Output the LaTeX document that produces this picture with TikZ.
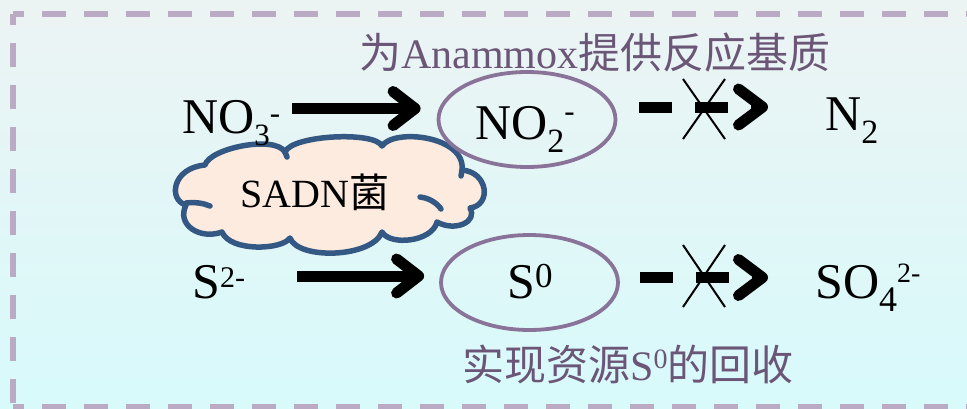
\documentclass[tikz,border=0pt]{standalone}
\usepackage{fontspec}
\setmainfont{Liberation Serif}
\newfontfamily\cjk{Noto Sans CJK SC}
\usetikzlibrary{arrows.meta,shapes.geometric,calc}
\definecolor{bgtop}{RGB}{236,243,243}
\definecolor{bgbot}{RGB}{216,250,251}
\definecolor{framec}{RGB}{186,170,196}
\definecolor{ellc}{RGB}{138,115,152}
\definecolor{notec}{RGB}{107,86,120}
\definecolor{cloudline}{RGB}{52,88,132}
\definecolor{cloudfill}{RGB}{252,235,222}
\newcommand\chsh[3]{\raisebox{#2}{\fontsize{#1}{#1}\selectfont #3}}
\tikzset{
  frameline/.style={draw=framec, line width=5.5pt, dash pattern=on 24pt off 18pt},
  chem/.style={inner sep=0pt, anchor=base west, font=\fontsize{50}{50}\selectfont},
  note/.style={inner sep=0pt, anchor=base, text=notec, font=\fontsize{42}{42}\selectfont},
  oval/.style={ellipse, draw=ellc, line width=3.8pt, minimum width=177pt, minimum height=95pt, inner sep=0pt},
  bigarrow/.style={line width=11pt, -{Straight Barb[length=22pt, width=34pt, round]}},
  xarrow/.style={line width=11pt, dash pattern=on 33pt off 23pt, -{Straight Barb[length=24pt, width=36pt, round]}},
  xmark/.style={line width=2pt},
  cloudline/.style={draw=cloudline, line width=5.5pt, line join=round, line cap=round},
  cloudtxt/.style={inner sep=0pt, anchor=base, font=\fontsize{40}{40}\selectfont}
}
\begin{document}
\begin{tikzpicture}[x=1pt,y=-1pt]
\useasboundingbox (0,0) rectangle (967,408);
\fill[top color=bgtop, bottom color=bgbot] (0,0) rectangle (967,408);
% dashed frame (right side lies outside the picture)
\draw[frameline, dash phase=13pt] (13,14) -- (995,14);
\draw[frameline, dash phase=13pt] (13,14) -- (13,407);
\draw[frameline, dash phase=13pt] (13,407) -- (995,407);

% annotations
\node[note] (top) at (595,68) {{\cjk 为}Anammox{\cjk 提供反应基质}};
\node[note] (bot) at (628,380) {{\cjk 实现资源}S\chsh{28}{12pt}{0}{\cjk 的回收}};

% cloud
\path[cloudline, fill=cloudfill]
  (205,165) .. controls (210,148) and (275,135) .. (285,152)
  .. controls (292,135) and (375,131) .. (382,146)
  .. controls (394,128) and (466,136) .. (462,170)
  .. controls (488,172) and (492,205) .. (470,208)
  .. controls (478,222) and (455,232) .. (437,222)
  .. controls (432,242) and (390,246) .. (382,232)
  .. controls (372,258) and (298,260) .. (290,238)
  .. controls (282,250) and (230,252) .. (222,232)
  .. controls (200,240) and (176,225) .. (186,205)
  .. controls (168,200) and (172,168) .. (205,165) -- cycle;
\draw[cloudline] (186,203) .. controls (195,202) and (203,203) .. (210,206);
\draw[cloudline] (420,197) .. controls (429,198) and (437,203) .. (441,209);
\draw[cloudline] (285,152) -- (287,157);
\draw[cloudline] (462,170) -- (461,176);
\node[cloudtxt] (sadnt) at (315,207) {SADN{\cjk 菌}};

% row 1
\node[chem] (no3) at (182,133) {NO\chsh{31}{-12pt}{3}\chsh{31}{10pt}{-}};
\node[oval] (no2) at (527,119.5) {};
\node[chem] (no2t) at (475,139) {NO\chsh{34}{-13pt}{2}\chsh{31}{18pt}{-}};
\node[chem] (n2) at (825,130) {N\chsh{34}{-13pt}{2}};

% row 2
\node[chem] (s2) at (192,298) {S\chsh{30}{11pt}{2-}};
\node[oval] (s0) at (529.5,282.5) {};
\node[chem] (s0t) at (507,298) {S\chsh{35}{11pt}{0}};
\node[chem] (so4) at (815,298) {SO\chsh{36}{-13pt}{4}\chsh{28}{16pt}{2-}};

% arrow heights
\coordinate (r1) at (0,108.5);
\coordinate (r1x) at (0,107);
\coordinate (r2) at (0,276);
\coordinate (r2x) at (0,277.5);

\draw[bigarrow, shorten <=12pt, shorten >=16pt] (no3.east |- r1) -- (no2.west |- r1);
\draw[bigarrow, shorten <=52pt, shorten >=15pt] (s2.east |- r2) -- (s0.west |- r2);

\draw[xarrow, shorten <=22pt, shorten >=57pt] (no2.east |- r1x) -- (n2.west |- r1x);
\draw[xarrow, shorten <=20pt, shorten >=47pt] (s0.east |- r2x) -- (so4.west |- r2x);

% crosses on the blocked arrows
\coordinate (x1) at (704,109);
\coordinate (x2) at (704,276);
\draw[xmark] ($(x1)+(-21,-30)$) -- ($(x1)+(21,30)$);
\draw[xmark] ($(x1)+(21,-30)$) -- ($(x1)+(-21,30)$);
\draw[xmark] ($(x2)+(-21,-31)$) -- ($(x2)+(21,31)$);
\draw[xmark] ($(x2)+(21,-31)$) -- ($(x2)+(-21,31)$);
\end{tikzpicture}
\end{document}
